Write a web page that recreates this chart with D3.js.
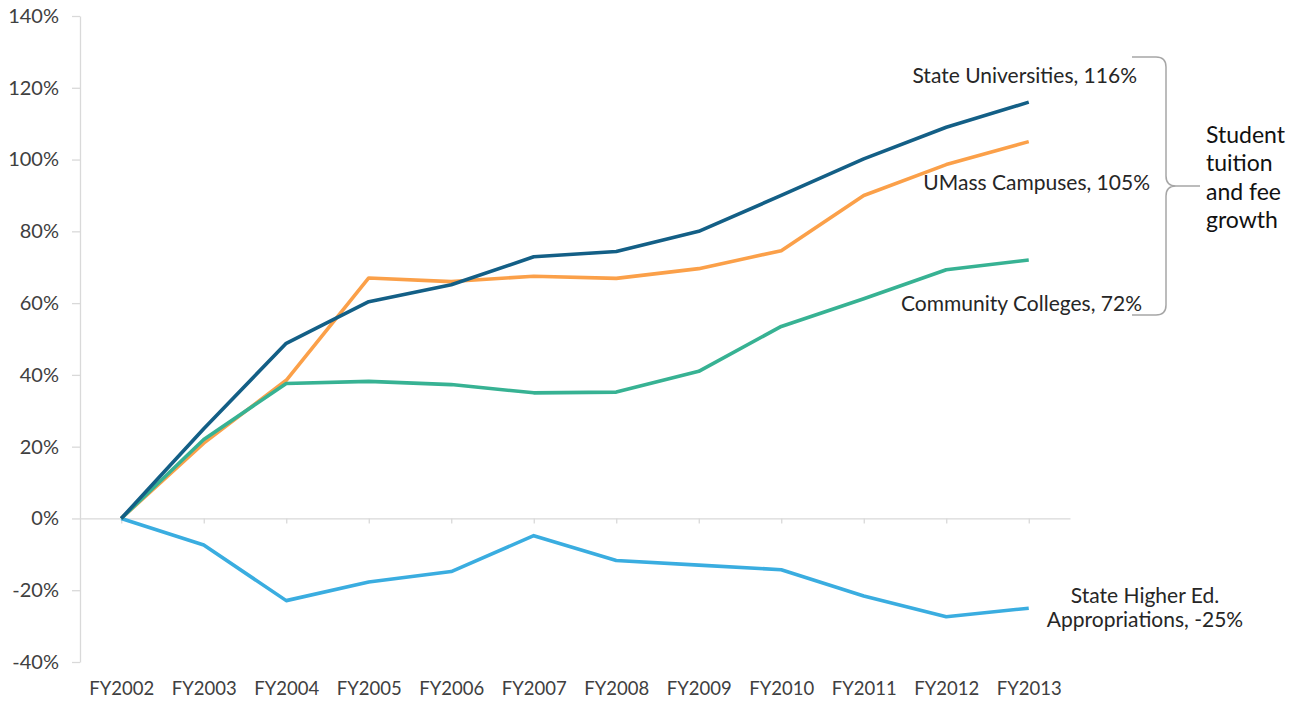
<!DOCTYPE html>
<html>
<head>
<meta charset="utf-8">
<script src="https://cdn.jsdelivr.net/npm/d3@7"></script>
<style>
  body { margin: 0; background: #fff; }
  svg text { font-family: Lato, "Open Sans", sans-serif; }
</style>
</head>
<body>
<svg id="chart" width="1298" height="702"></svg>
<script>
// fiscal years on the x axis
const categories = ['FY2002', 'FY2003', 'FY2004', 'FY2005', 'FY2006', 'FY2007',
  'FY2008', 'FY2009', 'FY2010', 'FY2011', 'FY2012', 'FY2013'];

// cumulative growth since FY2002, in percent
const stateUniversities = [0, 25, 48.8, 60.4, 65.1, 72.9, 74.4, 80.0, 90.0, 100.2, 109.0, 116];
const umassCampuses = [0, 21, 38.5, 67.0, 66.0, 67.5, 66.9, 69.6, 74.6, 90.0, 98.6, 105];
const communityColleges = [0, 22, 37.6, 38.2, 37.3, 35.0, 35.2, 41.0, 53.5, 61.2, 69.3, 72];
const appropriations = [0, -7.4, -22.9, -17.7, -14.8, -4.8, -11.7, -13.0, -14.3, -21.6, -27.4, -25];

const yTicks = [-40, -20, 0, 20, 40, 60, 80, 100, 120, 140];

const series = [
  { name: 'Appropriations', values: appropriations, color: '#3AADE0' },
  { name: 'UMass', values: umassCampuses, color: '#FBA049' },
  { name: 'Community', values: communityColleges, color: '#37B293' },
  { name: 'State', values: stateUniversities, color: '#135F86' }
];

const svg = d3.select('#chart');

const x = d3.scalePoint().domain(categories).range([80, 1070]).padding(0.5);
const y = d3.scaleLinear().domain([-40, 140]).range([662, 16]);

const axisColor = '#D9D9D9';
const textColor = '#404040';

// y axis
const yAxis = svg.append('g')
  .attr('transform', 'translate(80,0)')
  .call(d3.axisLeft(y).tickValues(yTicks).tickFormat(d => d + '%')
    .tickSize(8).tickSizeOuter(0).tickPadding(13));
yAxis.select('.domain').attr('stroke', axisColor).attr('stroke-width', 1.3);
yAxis.selectAll('.tick line').attr('stroke', axisColor).attr('stroke-width', 1.3);
yAxis.selectAll('text').attr('fill', textColor).style('font-size', '20px');

// x axis sits on the zero line
const xAxis = svg.append('g')
  .attr('transform', `translate(0,${y(0)})`)
  .call(d3.axisBottom(x).tickSize(5).tickSizeOuter(0).tickFormat(''));
xAxis.select('.domain').attr('stroke', axisColor).attr('stroke-width', 1.3);
xAxis.selectAll('.tick line').attr('stroke', axisColor).attr('stroke-width', 1.3);

// category labels at the bottom of the plot
const xLabels = svg.append('g')
  .attr('transform', 'translate(0,682)')
  .call(d3.axisBottom(x).tickSize(0).tickPadding(0));
xLabels.select('.domain').remove();
xLabels.selectAll('text').attr('fill', textColor).style('font-size', '18.5px');

// lines
const line = d3.line()
  .x((d, i) => x(categories[i]))
  .y(d => y(d));

svg.append('g').selectAll('path')
  .data(series)
  .join('path')
  .attr('d', d => line(d.values))
  .attr('fill', 'none')
  .attr('stroke', d => d.color)
  .attr('stroke-width', 3.6)
  .attr('stroke-linejoin', 'round');

// series labels
const labels = [
  { text: 'State Universities, 116%', x: 1137, y: 83, anchor: 'end' },
  { text: 'UMass Campuses, 105%', x: 1150, y: 190, anchor: 'end' },
  { text: 'Community Colleges, 72%', x: 1142, y: 311, anchor: 'end' },
  { text: 'State Higher Ed.', x: 1145, y: 603, anchor: 'middle' },
  { text: 'Appropriations, -25%', x: 1145, y: 627, anchor: 'middle' }
];
svg.append('g').selectAll('text')
  .data(labels)
  .join('text')
  .attr('x', d => d.x)
  .attr('y', d => d.y)
  .attr('text-anchor', d => d.anchor)
  .attr('fill', '#262626')
  .style('font-size', '21px')
  .text(d => d.text);

// brace grouping the tuition series
svg.append('path')
  .attr('d', 'M1132,57 L1156,57 Q1166,57 1166,67 L1166,176 Q1166,186 1176,186 L1200,186 ' +
    'M1176,186 Q1166,186 1166,196 L1166,305 Q1166,315 1156,315 L1132,315')
  .attr('fill', 'none')
  .attr('stroke', '#A6A6A6')
  .attr('stroke-width', 1.5);

const braceText = ['Student', 'tuition', 'and fee', 'growth'];
svg.append('g').selectAll('text')
  .data(braceText)
  .join('text')
  .attr('x', 1206)
  .attr('y', (d, i) => 143 + i * 28.3)
  .attr('fill', '#111')
  .style('font-size', '23px')
  .text(d => d);
</script>
</body>
</html>
